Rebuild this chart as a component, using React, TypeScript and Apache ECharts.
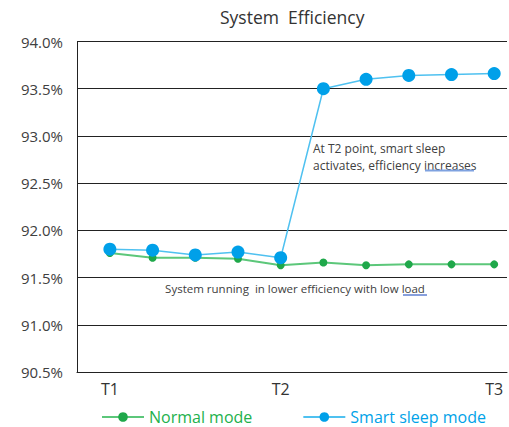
import React, { useEffect, useRef } from "react";
import * as echarts from "echarts";

const pointIndex = [0, 1, 2, 3, 4, 5, 6, 7, 8, 9];
const normalMode = [91.76, 91.71, 91.71, 91.7, 91.63, 91.66, 91.63, 91.64, 91.64, 91.64];
const smartSleepMode = [91.8, 91.79, 91.74, 91.77, 91.71, 93.5, 93.6, 93.64, 93.65, 93.66];
const tickIndices = [0, 4, 9];
const tickLabels = ["T1", "T2", "T3"];
const seriesNames = ["Normal mode", "Smart sleep mode"];

const FONT = "'Open Sans', 'Noto Sans', sans-serif";

export default function App() {
  const ref = useRef<HTMLDivElement>(null);
  useEffect(() => {
    if (!ref.current) return;
    const chart = echarts.init(ref.current, null, { renderer: "svg" });
    const green = "#1fa84a";
    const greenLine = "#5cc77a";
    const blue = "#00a0e9";
    const blueLine = "#4fc1f0";
    chart.setOption({
      animation: false,
      backgroundColor: "#ffffff",
      textStyle: { fontFamily: FONT },
      title: {
        text: "System  Efficiency",
        left: 220,
        top: 8,
        padding: 0,
        textStyle: { fontSize: 17.5, fontWeight: "normal", color: "#333333", fontFamily: FONT },
      },
      grid: { left: 77, right: 2, top: 41.5, bottom: 55, containLabel: false, outerBoundsMode: "none" },
      xAxis: {
        type: "value",
        min: -0.77,
        max: 9.3,
        axisLine: { show: true, onZero: false, lineStyle: { color: "#222222", width: 1 } },
        axisTick: { show: false },
        splitLine: { show: false },
        axisLabel: {
          customValues: tickIndices,
          formatter: (v: number) => tickLabels[tickIndices.indexOf(Math.round(v))] ?? "",
          fontSize: 16,
          color: "#333333",
          margin: 9,
          fontFamily: FONT,
        },
      },
      yAxis: {
        type: "value",
        min: 90.5,
        max: 94.0,
        interval: 0.5,
        axisLine: { show: true, onZero: false, lineStyle: { color: "#222222", width: 1 } },
        axisTick: { show: false },
        splitLine: { show: true, lineStyle: { color: "#222222", width: 1 } },
        axisLabel: {
          formatter: (v: number) => v.toFixed(1) + "%",
          fontSize: 15,
          color: "#404040",
          margin: 14,
          fontFamily: FONT,
        },
      },
      legend: {
        left: 101,
        top: 409,
        width: 405,
        padding: 0,
        itemWidth: 42,
        itemHeight: 12,
        itemGap: 50,
        data: [
          { name: seriesNames[0], textStyle: { color: "#22b14c" } },
          { name: seriesNames[1], textStyle: { color: "#00a2e8" } },
        ],
        textStyle: { fontSize: 16, fontFamily: FONT },
      },
      series: [
        {
          name: seriesNames[0],
          type: "line",
          data: pointIndex.map((x, i) => [x, normalMode[i]]),
          symbol: "circle",
          symbolSize: 8,
          lineStyle: { color: greenLine, width: 2 },
          itemStyle: { color: green },
        },
        {
          name: seriesNames[1],
          type: "line",
          data: pointIndex.map((x, i) => [x, smartSleepMode[i]]),
          symbol: "circle",
          symbolSize: 13,
          lineStyle: { color: blueLine, width: 1.5 },
          itemStyle: { color: blue },
        },
      ],
      graphic: [
        {
          type: "text",
          x: 313,
          y: 140,
          style: {
            text: "At T2 point, smart sleep\nactivates, efficiency increases",
            fontSize: 12,
            lineHeight: 17,
            fill: "#404040",
            fontFamily: FONT,
          },
        },
        {
          type: "line",
          shape: { x1: 425, y1: 170.5, x2: 474, y2: 170.5 },
          style: { stroke: "#7fa2e0", lineWidth: 2 },
        },
        {
          type: "text",
          x: 295,
          y: 282,
          style: {
            text: "System running  in lower efficiency with low load",
            fontSize: 11.5,
            fill: "#404040",
            align: "center",
            fontFamily: FONT,
          },
        },
        {
          type: "line",
          shape: { x1: 403, y1: 295, x2: 427, y2: 295 },
          style: { stroke: "#5f7fd0", lineWidth: 1.5 },
        },
      ],
    });
    return () => chart.dispose();
  }, []);
  return (
    <div
      ref={ref}
      style={{ position: "fixed", left: 0, top: 0, width: 509, height: 427 }}
    />
  );
}
